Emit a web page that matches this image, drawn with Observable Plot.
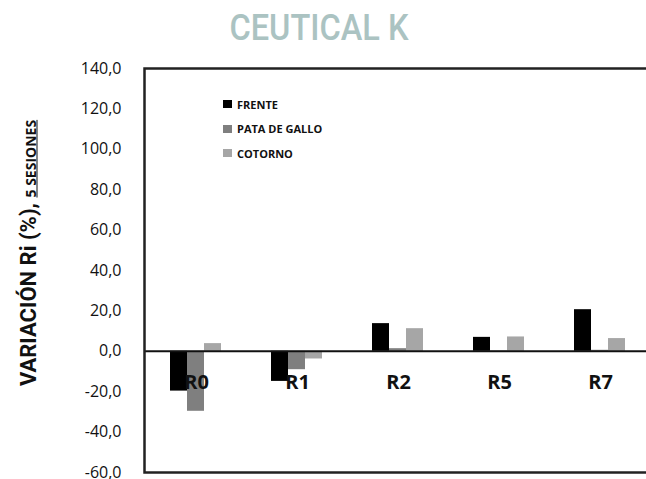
<!DOCTYPE html>
<html><head><meta charset="utf-8">
<script src="https://cdn.jsdelivr.net/npm/d3@7"></script>
<script src="https://cdn.jsdelivr.net/npm/@observablehq/plot@0.6"></script>
<style>
body{margin:0;background:#fff;width:646px;height:479px;overflow:hidden;position:relative;font-family:"Open Sans",sans-serif}
#title{position:absolute;left:0;top:0;width:646px;height:56px;}
#title span{position:absolute;left:319px;top:6px;transform:translateX(-50%) scaleX(0.88);font-family:Roboto,sans-serif;font-weight:500;font-size:37px;color:#abc3c2;white-space:nowrap;line-height:44px}
.layer{position:absolute;left:0;top:56px}
#legend{position:absolute;left:223px;top:92px;font-family:"Open Sans",sans-serif;font-weight:bold;font-size:11px;color:#111}
#legend div{height:24.5px;display:flex;align-items:center}
#legend i{display:inline-block;width:9px;height:8px;margin-right:5px}
#ylabel{position:absolute;left:28px;top:253px;transform:translate(-50%,-50%) rotate(-90deg);white-space:nowrap;font-family:Roboto,sans-serif;font-weight:bold;font-size:22px;color:#111}
#ylabel u{font-family:"Open Sans",sans-serif;font-size:14px;}
</style></head><body>
<div id="title"><span>CEUTICAL K</span></div>
<div id="bars" class="layer"></div>
<div id="axes" class="layer"></div>
<div id="ylabel">VARIACIÓN Ri (%), <u>5 SESIONES</u></div>
<div id="legend"></div>
<script>
const categories = ["R0", "R1", "R2", "R5", "R7"];
const series = ["FRENTE", "PATA DE GALLO", "COTORNO"];
const frente = [-19.7, -14.9, 13.7, 6.9, 20.6];
const pataDeGallo = [-29.7, -9.1, 1.3, 0.2, 0.5];
const cotorno = [3.8, -3.8, 11.2, 7.1, 6.3];
const colors = ["#000000", "#7f7f7f", "#a6a6a6"];
const yTicks = [-60, -40, -20, 0, 20, 40, 60, 80, 100, 120, 140];

const valuesBySeries = [frente, pataDeGallo, cotorno];
const data = categories.flatMap((c, i) =>
  series.map((s, j) => ({category: c, series: s, value: valuesBySeries[j][i]})));

const common = {
  width: 646, height: 423,
  marginTop: 12, marginBottom: 7, marginLeft: 144, marginRight: -5,
  y: {domain: [-60, 140], ticks: yTicks, tickFormat: d => d.toFixed(1).replace(".", ","), tickSize: 0, tickPadding: 23, label: null}
};

// bars, faceted by category
const barsPlot = Plot.plot({
  ...common,
  style: {fontFamily: "'Open Sans', sans-serif", fontSize: "16px", color: "#111", background: "#fff"},
  fx: {domain: categories, paddingInner: 0.5, paddingOuter: 0.25, axis: null, label: null},
  x: {domain: series, padding: 0, axis: null},
  y: {...common.y, axis: null},
  color: {domain: series, range: colors},
  marks: [
    Plot.barY(data, {fx: "category", x: "series", y: "value", fill: "series"})
  ]
});
document.getElementById("bars").appendChild(barsPlot);

// axes, zero line, frame and category labels on top
const axesPlot = Plot.plot({
  ...common,
  style: {fontFamily: "'Open Sans', sans-serif", fontSize: "16px", color: "#111", background: "transparent"},
  x: {domain: categories, paddingInner: 0.5, paddingOuter: 0.25, axis: null},
  marks: [
    Plot.ruleY([0], {stroke: "#111", strokeWidth: 2}),
    Plot.text(categories, {x: d => d, y: 0, text: d => d, dy: 31, fontWeight: "bold", fontSize: 20, fill: "#111"}),
    Plot.frame({stroke: "#222", strokeWidth: 2.5})
  ]
});
document.getElementById("axes").appendChild(axesPlot);

const legend = d3.select("#legend");
series.forEach((s, i) => {
  const row = legend.append("div");
  row.append("i").style("background", colors[i]);
  row.append("span").text(s);
});
</script>
</body></html>
